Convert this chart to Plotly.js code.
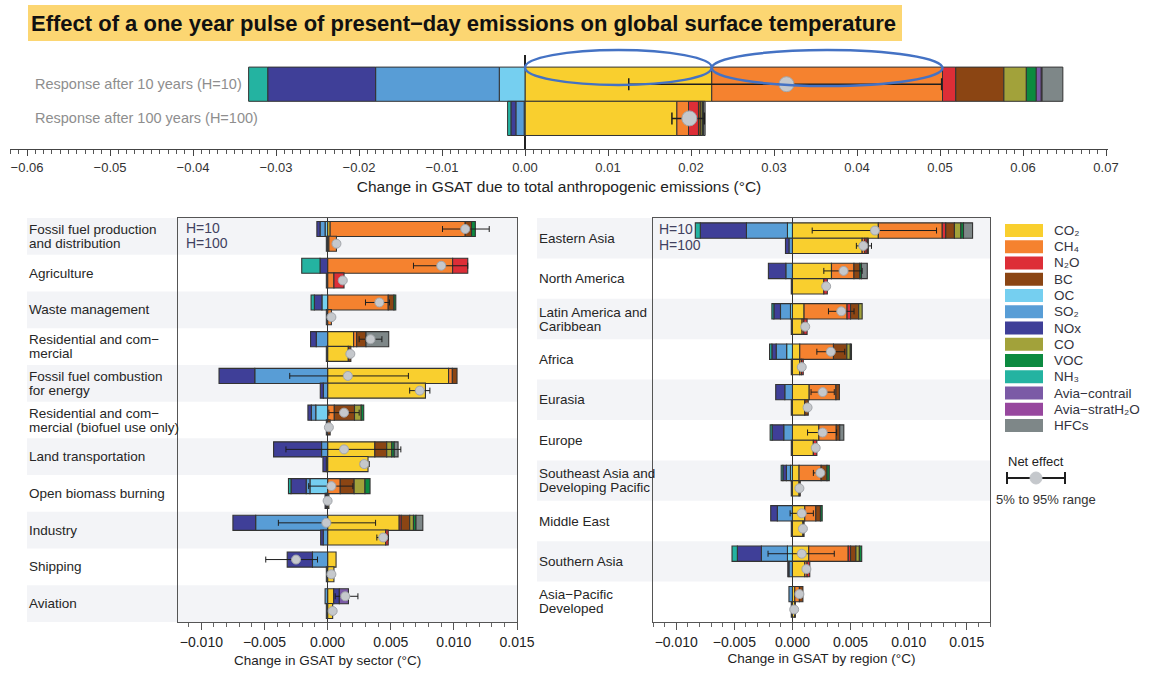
<!DOCTYPE html>
<html><head><meta charset="utf-8">
<script src="https://cdn.plot.ly/plotly-3.0.1.min.js"></script>
<style>html,body{margin:0;padding:0;background:#fff}#chart{width:1149px;height:673px}</style>
</head><body><div id="chart"></div>
<script>
// ---------------- DATA ----------------
const gases = ['CO2','CH4','N2O','BC','OC','SO2','NOx','CO','VOC','NH3','AviaContrail','AviaStratH2O','HFCs'];
const gasLabels = ['CO\u2082','CH\u2084','N\u2082O','BC','OC','SO\u2082','NOx','CO','VOC','NH\u2083','Avia\u2212contrail','Avia\u2212stratH\u2082O','HFCs'];
const gasColors = ['#F9CF2E','#F5822F','#DD2E37','#8B4513','#75CFF0','#589DD6','#3F3F98','#A2A23A','#0C8A40','#24B3A1','#7B5AA6','#97479E','#7E8788'];

// Top panel: total anthropogenic emissions
const horizonLabels = ['Response after 10 years (H=10)', 'Response after 100 years (H=100)'];
const totalH10  = {CO2:[0.0225], CH4:[0.0278], N2O:[0.0016], BC:[0.0058], OC:[-0.0031], SO2:[-0.0149], NOx:[-0.0130], CO:[0.0027], VOC:[0.0012], NH3:[-0.0023], AviaContrail:[0.0006], AviaStratH2O:[0.0001], HFCs:[0.0025]};
const totalH100 = {CO2:[0.0183], CH4:[0.0014], N2O:[0.0012], BC:[0.0003], OC:[-0.0001], SO2:[-0.0010], NOx:[-0.0006], CO:[0.0002], VOC:[0.0001], NH3:[-0.0004], HFCs:[0.0002]};
const totalNet = [0.0315, 0.0198];
const totalLo  = [0.0125, 0.0177];
const totalHi  = [0.0502, 0.0216];

// Sector panel
const sectors = [
  ['Fossil fuel production','and distribution'],
  ['Agriculture'],
  ['Waste management'],
  ['Residential and com\u2212','mercial'],
  ['Fossil fuel combustion','for energy'],
  ['Residential and com\u2212','mercial (biofuel use only)'],
  ['Land transportation'],
  ['Open biomass burning'],
  ['Industry'],
  ['Shipping'],
  ['Aviation']
];
const sectorH10 = {
  CO2: [0.0002, 0, 0, 0.00206, 0.00958, 0, 0.00374, 0, 0.00567, 0.00067, 0.00048],
  CH4: [0.0107, 0.0099, 0.0048, 0.00024, 0.0003, 0.00053, 0, 0.0010, 0, 0, 0],
  N2O: [0, 0.0012, 0, 0, 0, 0, 0, 0, 0.00016, 0, 0],
  BC:  [0.0005, 0, 0.00045, 0.00074, 0.00037, 0.0016, 0.00094, 0.0011, 0.00067, 0, 0],
  OC:  [-0.0002, 0, -0.00045, 0, 0, -0.00094, 0, -0.0014, 0, 0, 0],
  SO2: [-0.0004, 0, 0, -0.0009, -0.00577, -0.00035, -0.00048, -0.0003, -0.0057, -0.0012, -0.0002],
  NOx: [-0.00025, -0.0006, -0.0006, -0.00045, -0.00283, -0.00027, -0.0038, -0.0012, -0.0018, -0.0020, 0.00045],
  CO:  [0, 0, 0, 0, 0, 0.00053, 0.0004, 0.00086, 0.0003, 0, 0],
  VOC: [0.0003, 0, 0.00015, 0, 0, 0.0002, 0.0002, 0.0004, 0.0002, 0, 0],
  NH3: [0, -0.00145, -0.00026, 0, 0, 0, 0, -0.0002, 0, 0, 0],
  AviaContrail: [0, 0, 0, 0, 0, 0, 0, 0, 0, 0, 0.00072],
  HFCs: [0, 0, 0, 0.0018, 0, 0, 0.0003, 0, 0.00054, 0, 0]
};
const sectorH100 = {
  CO2: [0.0001, 0, 0, 0.00164, 0.00775, 0, 0.0032, 0.0001, 0.0046, 0.0005, 0.0004],
  CH4: [0.0006, 0.0005, 0.0003, 0, 0, 0, 0, 0, 0, 0, 0],
  N2O: [0, 0.0008, 0, 0, 0, 0, 0, 0, 0.0002, 0, 0],
  BC:  [0, 0, 0, 0.0002, 0, 0.0002, 0, 0, 0, 0, 0],
  SO2: [-0.0001, -0.0001, -0.0001, -0.0001, -0.00034, -0.0001, -0.0001, -0.0001, -0.00035, -0.0001, -0.0001],
  NOx: [0, 0, 0, 0, -0.00024, 0, -0.00027, -0.0001, -0.0002, 0, 0]
};
const sectorNet10 = [0.0109, 0.0090, 0.0041, 0.0034, 0.0016, 0.0013, 0.0013, 0.0003, -0.0001, -0.0025, 0.0014];
const sectorLo10  = [0.0091, 0.0068, 0.0030, 0.0025, -0.0030, 0.0001, -0.0033, -0.0015, -0.0039, -0.0049, 0.0006];
const sectorHi10  = [0.0128, 0.0111, 0.0049, 0.0043, 0.0064, 0.0025, 0.0058, 0.0020, 0.0038, -0.0008, 0.0024];
const sectorNet100 = [0.0007, 0.0012, 0.0003, 0.0018, 0.0073, 0.0001, 0.0029, 0.0000, 0.0044, 0.0003, 0.0004];
const sectorLo100  = [null, null, null, null, 0.0065, null, 0.0026, null, 0.0039, null, null];
const sectorHi100  = [null, null, null, null, 0.0081, null, 0.0033, null, 0.0048, null, null];

// Region panel
const regions = [
  ['Eastern Asia'],
  ['North America'],
  ['Latin America and','Caribbean'],
  ['Africa'],
  ['Eurasia'],
  ['Europe'],
  ['Southeast Asia and','Developing Pacific'],
  ['Middle East'],
  ['Southern Asia'],
  ['Asia\u2212Pacific','Developed']
];
const regionH10 = {
  CO2: [0.00739, 0.00336, 0.0010, 0.00063, 0.00144, 0.00227, 0.00057, 0.00106, 0.0014, 0.0002],
  CH4: [0.0055, 0.00193, 0.0037, 0.0029, 0.0023, 0.0015, 0.0019, 0.00095, 0.0034, 0.0004],
  N2O: [0.0003, 0, 0.0003, 0, 0, 0, 0, 0, 0.0002, 0],
  BC:  [0.00075, 0.0005, 0.0007, 0.00115, 0.0003, 0.0003, 0.0005, 0.0004, 0.00046, 0.0003],
  OC:  [-0.00043, 0, -0.00017, -0.0005, 0, 0, -0.00017, 0, -0.00043, 0],
  SO2: [-0.00353, -0.00057, -0.00086, -0.0009, -0.00066, -0.00075, -0.00035, -0.0013, -0.00224, -0.0003],
  NOx: [-0.00397, -0.0015, -0.00057, -0.00037, -0.00078, -0.0010, -0.0003, -0.00057, -0.00207, 0],
  CO:  [0.00055, 0, 0.0003, 0.0003, 0, 0, 0, 0, 0.0003, 0],
  VOC: [0.00023, 0.00015, 0, 0.0001, 0, 0, 0.0002, 0.00015, 0.0002, 0],
  NH3: [-0.00043, 0, -0.00017, -0.0002, 0, -0.00017, -0.00015, 0, -0.00046, 0],
  HFCs: [0.00078, 0.0005, 0, 0, 0, 0.00035, 0, 0, 0, 0]
};
const regionH100 = {
  CO2: [0.0060, 0.0027, 0.00083, 0.00063, 0.00106, 0.0018, 0.00057, 0.0009, 0.00106, 0.0002],
  CH4: [0.00023, 0, 0.00015, 0.00015, 0, 0, 0, 0, 0.0002, 0],
  N2O: [0.0002, 0.0003, 0.00028, 0.00015, 0, 0.0003, 0, 0, 0.00023, 0],
  BC:  [0.0001, 0, 0, 0, 0.0003, 0, 0.0001, 0.0001, 0, 0.00005],
  SO2: [-0.0003, -0.0001, -0.0001, -0.0001, -0.0001, -0.0001, -0.0001, -0.0001, -0.0003, -0.0001],
  NOx: [-0.0003, 0, 0, 0, 0, 0, 0, 0, -0.0001, 0]
};
const regionNet10 = [0.0071, 0.0044, 0.0042, 0.0033, 0.0026, 0.0026, 0.0024, 0.0008, 0.0008, 0.0006];
const regionLo10  = [0.0017, 0.0027, 0.0031, 0.0021, 0.0016, 0.0013, 0.0018, -0.0002, -0.0021, null];
const regionHi10  = [0.0124, 0.0060, 0.0053, 0.0045, 0.0036, 0.0038, 0.0027, 0.0018, 0.0036, null];
const regionNet100 = [0.0061, 0.0029, 0.0011, 0.0008, 0.0013, 0.0020, 0.0006, 0.0009, 0.0012, 0.00015];
const regionLo100  = [0.0055, null, null, null, null, null, null, null, null, null];
const regionHi100  = [0.0068, null, null, null, null, null, null, null, null, null];

// ---------------- BUILD ----------------
const W = 1149, H = 673;
const px = x => x / W, py = y => 1 - y / H;
const FONT = 'Liberation Sans, Arial, sans-serif';
const traces = [];

function addBars(h10, h100, pos10, pos100, xa, ya, width, lw) {
  gases.forEach((g, k) => {
    const xs = [], ys = [];
    (h10[g] || []).forEach((v, i) => { if (v) { xs.push(v); ys.push(pos10[i]); } });
    (h100[g] || []).forEach((v, i) => { if (v) { xs.push(v); ys.push(pos100[i]); } });
    if (!xs.length) return;
    traces.push({type:'bar', orientation:'h', x:xs, y:ys, xaxis:xa, yaxis:ya, width:width,
      marker:{color:gasColors[k], line:{color:'#333333', width:lw}}, name:gases[k],
      showlegend:false, hoverinfo:'skip'});
  });
}
function addNet(net, lo, hi, pos, xa, ya, size, capw, thick) {
  traces.push({type:'scatter', mode:'markers', x:net, y:pos, xaxis:xa, yaxis:ya,
    error_x:{type:'data', symmetric:false,
      array: net.map((v,i) => hi[i] == null ? NaN : hi[i] - v),
      arrayminus: net.map((v,i) => lo[i] == null ? NaN : v - lo[i]),
      color:'#1e1e1e', thickness:thick, width:capw},
    marker:{size:size, color:'#C5C8CC', line:{color:'#A3A6AB', width:1}},
    showlegend:false, hoverinfo:'skip', cliponaxis:false});
}

// top
addBars(totalH10, totalH100, [1], [0], 'x', 'y', 1.0, 1);
addNet([totalNet[0]], [totalLo[0]], [totalHi[0]], [1], 'x', 'y', 15, 6, 1.5);
addNet([totalNet[1]], [totalLo[1]], [totalHi[1]], [0], 'x', 'y', 15, 6, 1.5);
// sectors
const sPos10 = sectors.map((s,i) => i - 0.2), sPos100 = sectors.map((s,i) => i + 0.2);
addBars(sectorH10, sectorH100, sPos10, sPos100, 'x2', 'y2', 0.41, 1.1);
addNet(sectorNet10, sectorLo10, sectorHi10, sPos10, 'x2', 'y2', 9, 3, 1);
addNet(sectorNet100, sectorLo100, sectorHi100, sPos100, 'x2', 'y2', 9, 3, 1);
// regions
const rPos10 = regions.map((s,i) => i - 0.19), rPos100 = regions.map((s,i) => i + 0.19);
addBars(regionH10, regionH100, rPos10, rPos100, 'x3', 'y3', 0.38, 1.1);
addNet(regionNet10, regionLo10, regionHi10, rPos10, 'x3', 'y3', 9, 3, 1);
addNet(regionNet100, regionLo100, regionHi100, rPos100, 'x3', 'y3', 9, 3, 1);

const shapes = [], annotations = [];
// title highlight
shapes.push({type:'rect', xref:'paper', yref:'paper', x0:px(28), x1:px(902), y0:py(41), y1:py(5), fillcolor:'#FCD672', line:{width:0}, layer:'below'});
// row bands
sectors.forEach((s,i) => { if (i % 2 === 0) shapes.push({type:'rect', xref:'paper', yref:'y2', x0:px(27), x1:px(517), y0:i-0.5, y1:i+0.5, fillcolor:'#F3F4F7', line:{width:0}, layer:'below'}); });
regions.forEach((s,i) => { if (i % 2 === 0) shapes.push({type:'rect', xref:'paper', yref:'y3', x0:px(537), x1:px(990), y0:i-0.5, y1:i+0.5, fillcolor:'#F3F4F7', line:{width:0}, layer:'below'}); });
// highlight ellipses on CO2 and CH4 (H=10)
shapes.push({type:'circle', xref:'x', yref:'paper', x0:0, x1:totalH10.CO2[0], y0:py(85), y1:py(50), line:{color:'#4472C4', width:2.5}, layer:'above'});
shapes.push({type:'circle', xref:'x', yref:'paper', x0:totalH10.CO2[0], x1:totalH10.CO2[0] + totalH10.CH4[0], y0:py(86), y1:py(50), line:{color:'#4472C4', width:2.5}, layer:'above'});

// top row labels
annotations.push({xref:'paper', yref:'y', x:px(33), y:1, xanchor:'left', yanchor:'middle', text:horizonLabels[0], showarrow:false, font:{family:FONT, size:14.5, color:'#8E8E8E'}});
annotations.push({xref:'paper', yref:'y', x:px(33), y:0, xanchor:'left', yanchor:'middle', text:horizonLabels[1], showarrow:false, font:{family:FONT, size:14.5, color:'#8E8E8E'}});

function rowLabels(list, yref, xpx, gap) {
  list.forEach((lines, i) => {
    lines.forEach((t, j) => {
      const shift = lines.length === 1 ? 0 : (j === 0 ? gap : -gap);
      annotations.push({xref:'paper', yref:yref, x:px(xpx), y:i, yshift:shift, xanchor:'left', yanchor:'middle', text:t, showarrow:false, font:{family:FONT, size:13.5, color:'#262626'}});
    });
  });
}
rowLabels(sectors, 'y2', 27, 7);
rowLabels(regions, 'y3', 537, 7);

// H=10 / H=100 markers in panels
[[184, 228, 243], [657, 229, 245]].forEach(p => {
  annotations.push({xref:'paper', yref:'paper', x:px(p[0]), y:py(p[1]), xanchor:'left', yanchor:'middle', text:'H=10', showarrow:false, font:{family:FONT, size:14, color:'#414160'}});
  annotations.push({xref:'paper', yref:'paper', x:px(p[0]), y:py(p[2]), xanchor:'left', yanchor:'middle', text:'H=100', showarrow:false, font:{family:FONT, size:14, color:'#414160'}});
});

// left panel axis title (centred on zero as in the original)
annotations.push({xref:'x2', yref:'paper', x:0, y:py(660), xanchor:'center', yanchor:'middle', text:'Change in GSAT by sector (\u00B0C)', showarrow:false, font:{family:FONT, size:13.5, color:'#1e1e1e'}});

// legend
gases.forEach((g, k) => {
  const yc = 230.5 + 16.25 * k;
  shapes.push({type:'rect', xref:'paper', yref:'paper', x0:px(1005), x1:px(1043), y0:py(yc+6.5), y1:py(yc-6.5), fillcolor:gasColors[k], line:{width:0}});
  annotations.push({xref:'paper', yref:'paper', x:px(1052), y:py(yc), xanchor:'left', yanchor:'middle', text:gasLabels[k], showarrow:false, font:{family:FONT, size:13.5, color:'#333340'}});
});
annotations.push({xref:'paper', yref:'paper', x:px(1036), y:py(461), xanchor:'center', yanchor:'middle', text:'Net effect', showarrow:false, font:{family:FONT, size:13, color:'#222'}});
shapes.push({type:'line', xref:'paper', yref:'paper', x0:px(1007), x1:px(1065), y0:py(478), y1:py(478), line:{color:'#1e1e1e', width:2}});
shapes.push({type:'line', xref:'paper', yref:'paper', x0:px(1007), x1:px(1007), y0:py(472), y1:py(484), line:{color:'#1e1e1e', width:2}});
shapes.push({type:'line', xref:'paper', yref:'paper', x0:px(1065), x1:px(1065), y0:py(472), y1:py(484), line:{color:'#1e1e1e', width:2}});
shapes.push({type:'circle', xref:'paper', yref:'paper', x0:px(1030), x1:px(1042), y0:py(484), y1:py(472), fillcolor:'#C5C8CC', line:{color:'#C5C8CC', width:1}});
annotations.push({xref:'paper', yref:'paper', x:px(1046), y:py(499), xanchor:'center', yanchor:'middle', text:'5% to 95% range', showarrow:false, font:{family:FONT, size:13, color:'#333'}});

const lowerAxis = {showline:true, mirror:true, linecolor:'#555', linewidth:1, ticks:'outside', ticklen:7, tickcolor:'#555',
  dtick:0.005, tick0:0, tickformat:'.3f', showgrid:false, zeroline:true, zerolinecolor:'#333', zerolinewidth:1,
  minor:{dtick:0.001, ticks:'outside', ticklen:4, tickcolor:'#666', showgrid:false},
  tickfont:{family:FONT, size:14, color:'#222'}, fixedrange:true};
const lowerY = {showline:true, mirror:true, linecolor:'#555', linewidth:1, ticks:'', showticklabels:false, showgrid:false, zeroline:false, fixedrange:true};

const layout = {
  width:W, height:H, margin:{l:0, r:0, t:0, b:0}, paper_bgcolor:'#fff', plot_bgcolor:'rgba(0,0,0,0)',
  barmode:'relative', showlegend:false,
  title:{text:'<b>Effect of a one year pulse of present\u2212day emissions on global surface temperature</b>', font:{family:FONT, size:22, color:'#111'},
    xref:'paper', yref:'paper', x:px(31), xanchor:'left', y:py(23), yanchor:'middle'},
  xaxis:{domain:[px(10), px(1108)], range:[-0.06205, 0.07024], anchor:'y', showline:true, linecolor:'#444', linewidth:1,
    ticks:'outside', ticklen:6, tickcolor:'#444', dtick:0.01, tick0:0, tickformat:'.2f', showgrid:false,
    zeroline:true, zerolinecolor:'#222', zerolinewidth:1.3,
    minor:{dtick:0.001, ticks:'outside', ticklen:3.5, tickcolor:'#555', showgrid:false},
    tickfont:{family:FONT, size:13, color:'#333'},
    title:{text:'Change in GSAT due to total anthropogenic emissions (\u00B0C)', font:{family:FONT, size:15.5, color:'#1e1e1e'}, standoff:7}, fixedrange:true},
  yaxis:{domain:[py(149), py(55)], range:[-0.895, 1.854], anchor:'x', visible:false, fixedrange:true},
  xaxis2:Object.assign({}, lowerAxis, {domain:[px(178), px(517)], range:[-0.01185, 0.0150], anchor:'y2'}),
  yaxis2:Object.assign({}, lowerY, {domain:[py(622), py(218)], range:[10.5, -0.5], anchor:'x2'}),
  xaxis3:Object.assign({}, lowerAxis, {domain:[px(653), px(990)], range:[-0.0120, 0.0170], anchor:'y3',
    title:{text:'Change in GSAT by region (\u00B0C)', font:{family:FONT, size:13.5, color:'#1e1e1e'}, standoff:4}}),
  yaxis3:Object.assign({}, lowerY, {domain:[py(622), py(218)], range:[9.5, -0.5], anchor:'x3'}),
  shapes:shapes, annotations:annotations
};

Plotly.newPlot('chart', traces, layout, {staticPlot:true, displayModeBar:false});
</script></body></html>
